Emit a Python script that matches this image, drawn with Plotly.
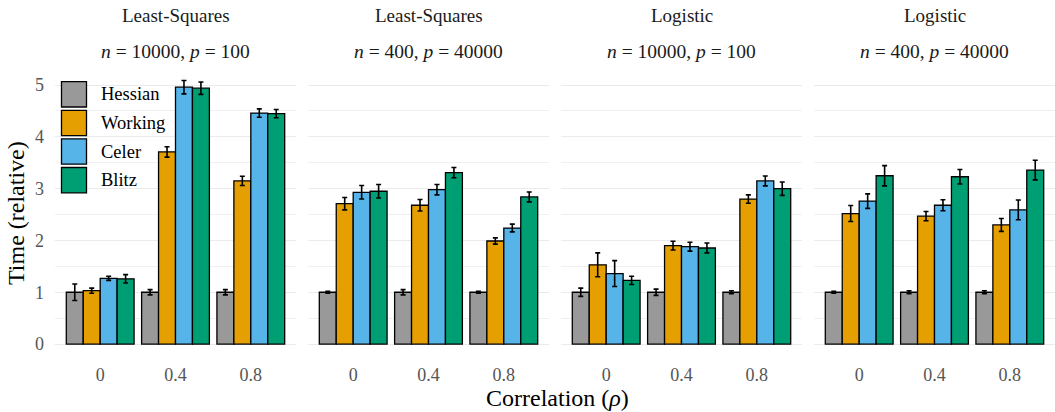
import plotly.graph_objects as go

# ---------------- data ----------------
correlations = ["0", "0.4", "0.8"]
methods = ["Hessian", "Working", "Celer", "Blitz"]
colors = ["#999999", "#E69F00", "#56B4E9", "#009E73"]

panel_titles = ["Least-Squares", "Least-Squares", "Logistic", "Logistic"]
panel_subtitles = [
    "<i>n</i> = 10000, <i>p</i> = 100",
    "<i>n</i> = 400, <i>p</i> = 40000",
    "<i>n</i> = 10000, <i>p</i> = 100",
    "<i>n</i> = 400, <i>p</i> = 40000",
]

# values[panel][method] -> per correlation
ls_small_mean = {
    "Hessian": [1.00, 1.00, 1.00],
    "Working": [1.03, 3.71, 3.15],
    "Celer":   [1.27, 4.96, 4.46],
    "Blitz":   [1.26, 4.94, 4.45],
}
ls_small_err = {
    "Hessian": [0.16, 0.05, 0.05],
    "Working": [0.05, 0.10, 0.09],
    "Celer":   [0.04, 0.13, 0.08],
    "Blitz":   [0.08, 0.12, 0.08],
}
ls_large_mean = {
    "Hessian": [1.00, 1.00, 1.00],
    "Working": [2.71, 2.68, 1.99],
    "Celer":   [2.93, 2.98, 2.24],
    "Blitz":   [2.95, 3.31, 2.84],
}
ls_large_err = {
    "Hessian": [0.02, 0.05, 0.02],
    "Working": [0.12, 0.11, 0.06],
    "Celer":   [0.13, 0.10, 0.075],
    "Blitz":   [0.13, 0.10, 0.095],
}
log_small_mean = {
    "Hessian": [1.00, 1.00, 1.00],
    "Working": [1.53, 1.90, 2.80],
    "Celer":   [1.36, 1.88, 3.15],
    "Blitz":   [1.23, 1.855, 3.00],
}
log_small_err = {
    "Hessian": [0.08, 0.06, 0.03],
    "Working": [0.23, 0.085, 0.08],
    "Celer":   [0.25, 0.085, 0.095],
    "Blitz":   [0.08, 0.095, 0.13],
}
log_large_mean = {
    "Hessian": [1.00, 1.00, 1.00],
    "Working": [2.52, 2.47, 2.30],
    "Celer":   [2.76, 2.68, 2.59],
    "Blitz":   [3.25, 3.23, 3.36],
}
log_large_err = {
    "Hessian": [0.02, 0.03, 0.03],
    "Working": [0.155, 0.09, 0.125],
    "Celer":   [0.14, 0.105, 0.19],
    "Blitz":   [0.195, 0.14, 0.19],
}
panel_means = [ls_small_mean, ls_large_mean, log_small_mean, log_large_mean]
panel_errs = [ls_small_err, ls_large_err, log_small_err, log_large_err]

y_ticks = [0, 1, 2, 3, 4, 5]

# ---------------- layout geometry ----------------
W, H = 1055, 412
ML, MR, MT, MB = 55, 0, 68, 55
PW, PH = W - ML - MR, H - MT - MB
gap_px = 12
panel_w = (PW - 3 * gap_px) / 4


def px_x(px):
    return (px - ML) / PW


def px_y(py):
    return 1 - (py - MT) / PH


FONT = "Liberation Serif"
TICK_COLOR = "#555555"
fig = go.Figure()

xpos = list(range(len(correlations)))
for p in range(4):
    axn = "" if p == 0 else str(p + 1)
    for m, col in zip(methods, colors):
        fig.add_trace(go.Bar(
            x=xpos, y=panel_means[p][m], name=m,
            marker=dict(color=col, line=dict(color="black", width=1.3)),
            error_y=dict(type="data", array=panel_errs[p][m], color="black",
                         thickness=1.6, width=2.5),
            xaxis="x" + axn, yaxis="y" + axn, showlegend=False,
            offsetgroup=m,
        ))
    x0 = p * (panel_w + gap_px) / PW
    x1 = x0 + panel_w / PW
    fig.layout["xaxis" + axn] = dict(
        domain=[x0, x1], anchor="y" + axn, range=[-0.6, 2.6],
        tickmode="array", tickvals=xpos, ticktext=correlations,
        showgrid=False, zeroline=False, showline=False, ticks="",
        tickfont=dict(family=FONT, size=18, color=TICK_COLOR),
        ticklabelstandoff=5,
    )
    fig.layout["yaxis" + axn] = dict(
        anchor="x" + axn, range=[-0.25, 5.33],
        tickmode="array", tickvals=y_ticks,
        showticklabels=(p == 0),
        showgrid=True, gridcolor="#EBEBEB", gridwidth=1.2,
        minor=dict(dtick=0.5, showgrid=True, gridcolor="#F0F0F0", gridwidth=1),
        zeroline=False, showline=False, ticks="",
        tickfont=dict(family=FONT, size=18, color=TICK_COLOR),
        ticklabelstandoff=10,
    )
    cx = (x0 + x1) / 2
    fig.add_annotation(x=cx, y=px_y(16), xref="paper", yref="paper",
                       xanchor="center", yanchor="middle",
                       text=panel_titles[p], showarrow=False,
                       font=dict(family=FONT, size=19, color="#1A1A1A"))
    fig.add_annotation(x=cx, y=px_y(51), xref="paper", yref="paper",
                       xanchor="center", yanchor="middle",
                       text=panel_subtitles[p], showarrow=False,
                       font=dict(family=FONT, size=19.5, color="#1A1A1A"))

# axis titles
fig.add_annotation(x=px_x(557), y=px_y(398), xref="paper", yref="paper",
                   xanchor="center", yanchor="middle",
                   text="Correlation (<i>ρ</i>)", showarrow=False,
                   font=dict(family=FONT, size=24, color="black"))
fig.add_annotation(x=px_x(16), y=px_y(213), xref="paper", yref="paper",
                   xanchor="center", yanchor="middle",
                   text="Time (relative)", showarrow=False, textangle=-90,
                   font=dict(family=FONT, size=24, color="black"))

# custom legend
for i, (m, col) in enumerate(zip(methods, colors)):
    top = 81.7 + i * 28.6
    fig.add_shape(type="rect", xref="paper", yref="paper",
                  x0=px_x(61.5), x1=px_x(86.5), y0=px_y(top), y1=px_y(top + 25.3),
                  fillcolor=col, line=dict(color="black", width=1.3))
    fig.add_annotation(x=px_x(99), y=px_y(top + 12.8), xref="paper", yref="paper",
                       text=m, showarrow=False, xanchor="left", yanchor="middle",
                       font=dict(family=FONT, size=18.5, color="black"))

fig.update_layout(
    width=W, height=H,
    margin=dict(l=ML, r=MR, t=MT, b=MB),
    barmode="group", bargap=0.1, bargroupgap=0,
    plot_bgcolor="white", paper_bgcolor="white",
    font=dict(family=FONT),
)

fig.write_html("out.html")
